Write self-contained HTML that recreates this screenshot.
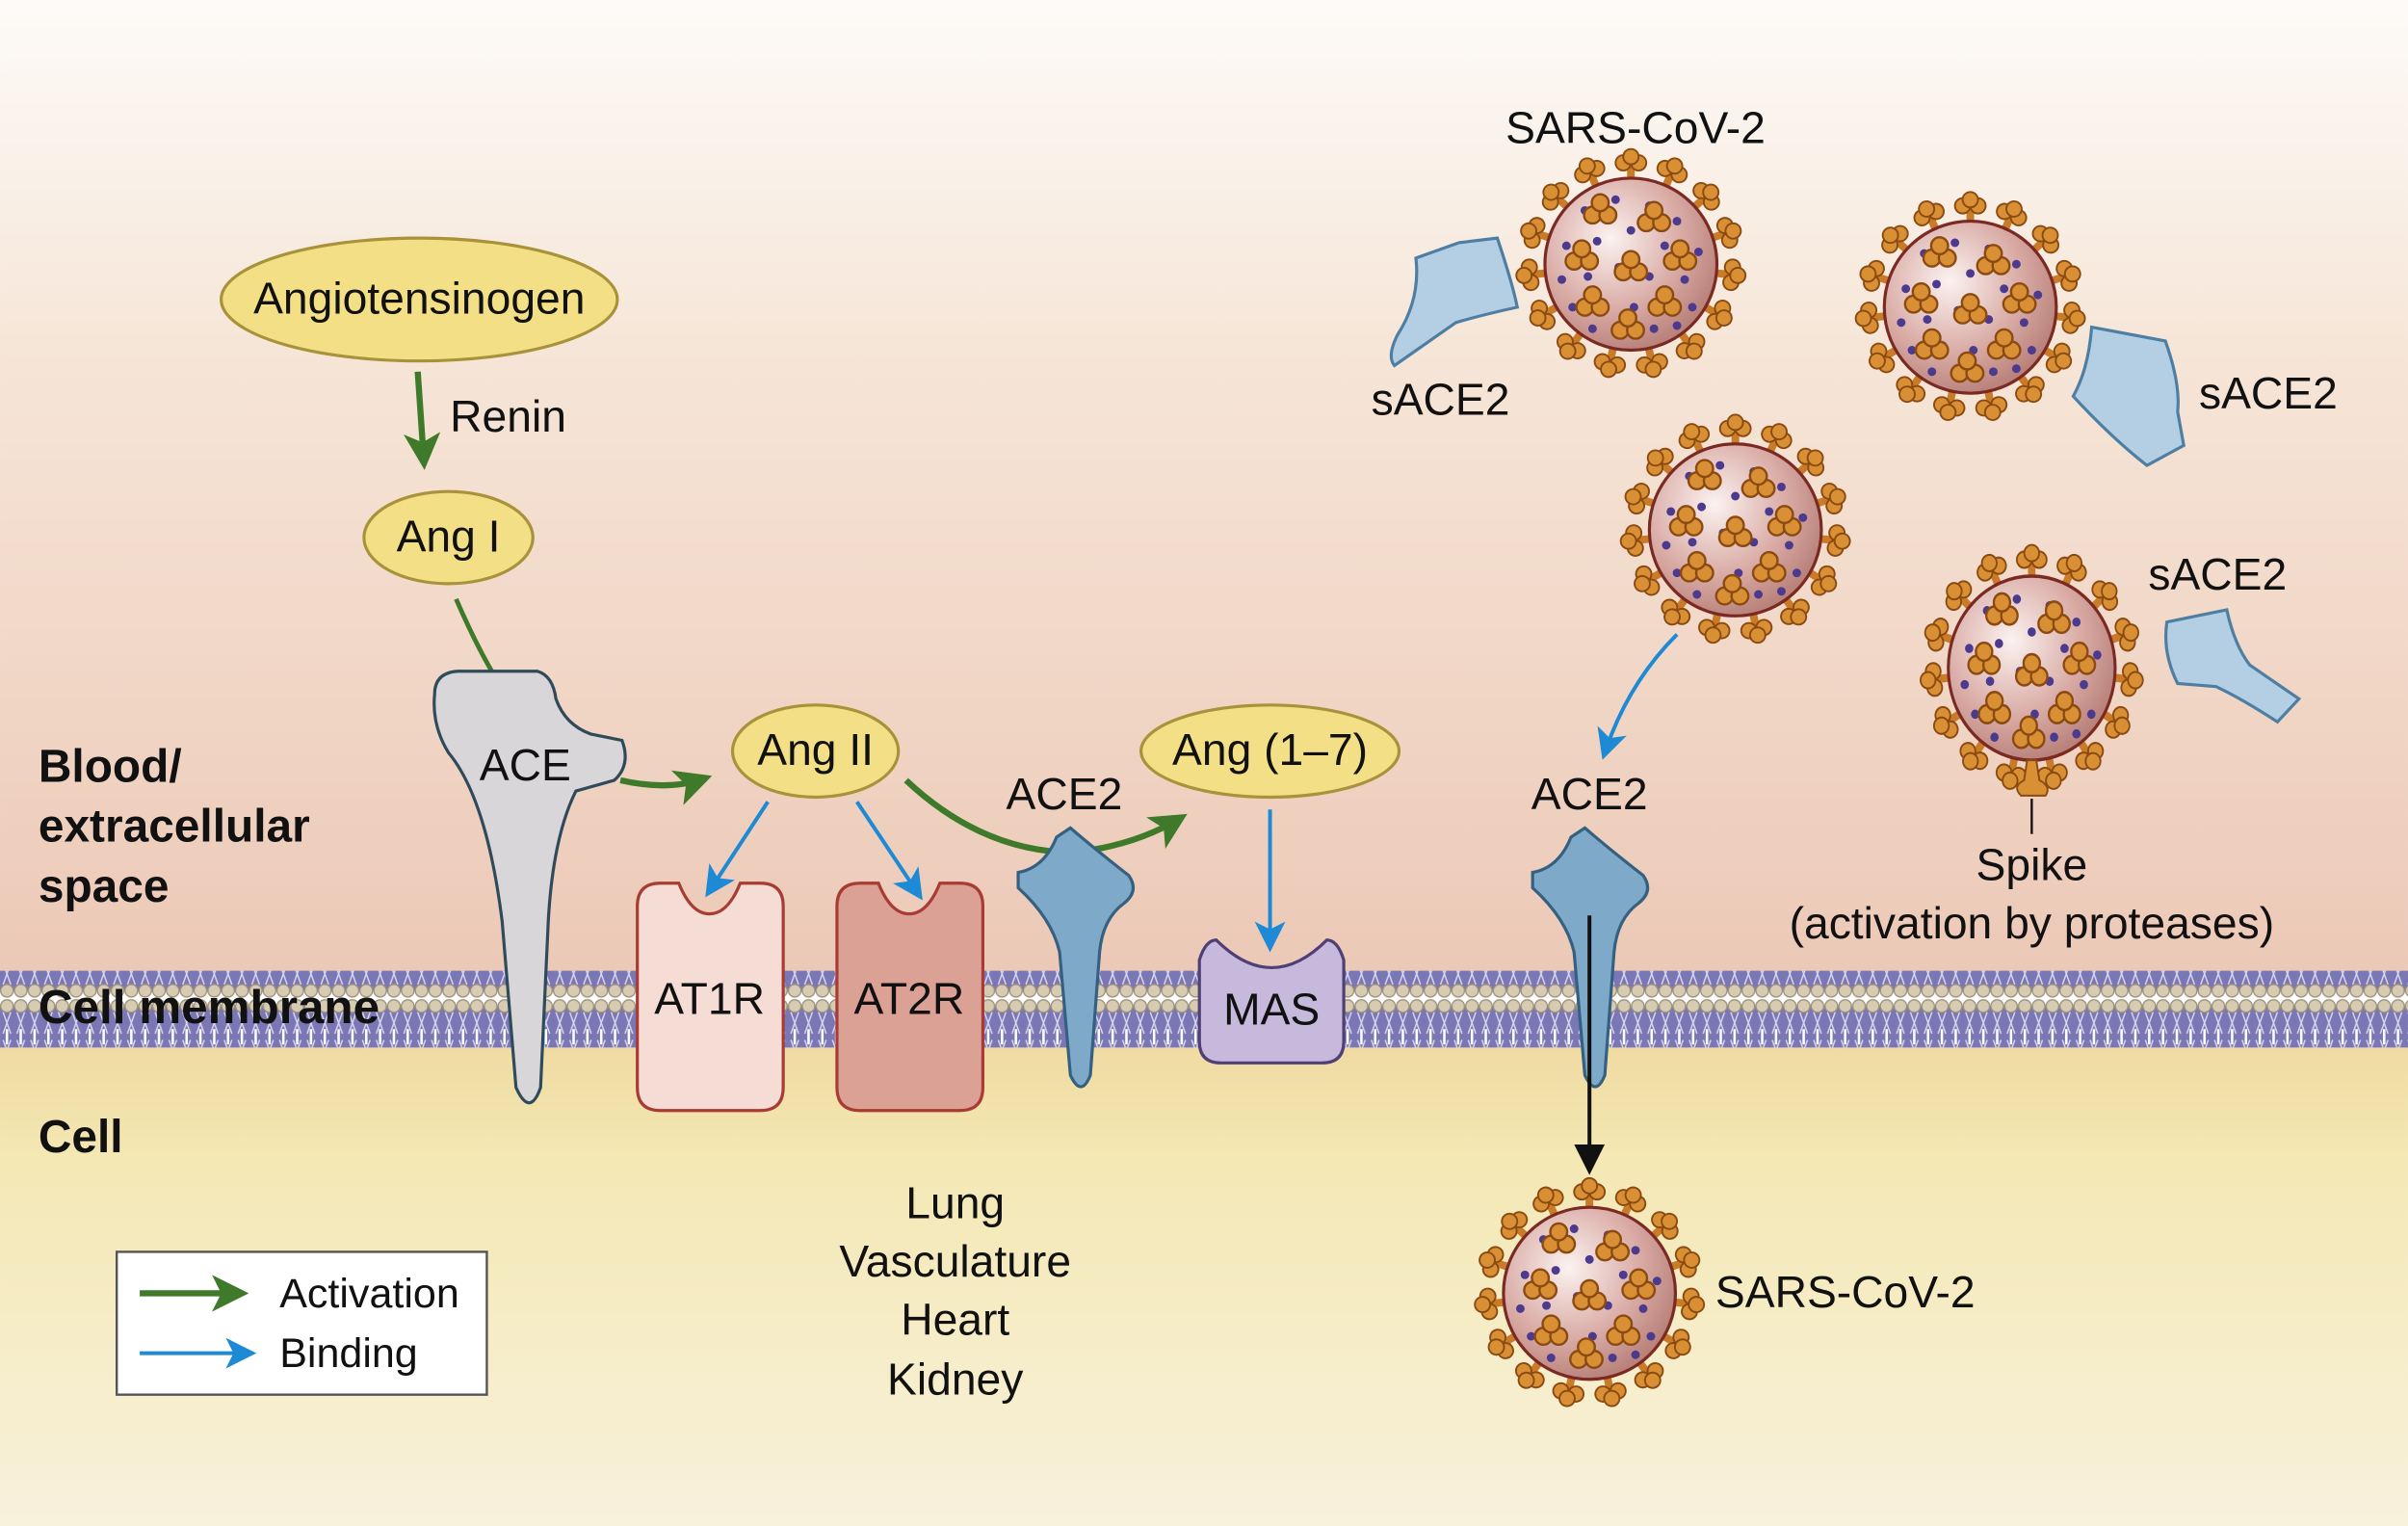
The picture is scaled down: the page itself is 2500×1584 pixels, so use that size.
<!DOCTYPE html>
<html><head><meta charset="utf-8"><style>
html,body{margin:0;padding:0;background:#fff}
svg{display:block}
text{font-family:"Liberation Sans",Arial,sans-serif;fill:#111}
</style></head><body>
<svg width="2500" height="1584" viewBox="0 0 1568 993.5" xmlns="http://www.w3.org/2000/svg">
<defs>
<linearGradient id="bgTop" x1="0" y1="0" x2="0" y2="1">
<stop offset="0" stop-color="#fdfbf8"/><stop offset="0.35" stop-color="#f6e6d8"/><stop offset="1" stop-color="#ecc8b6"/>
</linearGradient>
<linearGradient id="bgBot" x1="0" y1="0" x2="0" y2="1">
<stop offset="0" stop-color="#efd9a0"/><stop offset="0.25" stop-color="#f4e8b4"/><stop offset="1" stop-color="#f8f1dc"/>
</linearGradient>
<pattern id="lip" x="0" y="0" width="9" height="50" patternUnits="userSpaceOnUse">
<rect x="0" y="5" width="9" height="40" fill="#7b77b4"/>
<path d="M2,9 L7,23 M7,9 L2,23 M2,27 L7,41 M7,27 L2,41" stroke="#d8d8f0" stroke-width="0.9"/>
<line x1="4.5" y1="20" x2="4.5" y2="30" stroke="#fff" stroke-width="1.6"/>
<circle cx="4.5" cy="5" r="4.1" fill="#d7cbb3" stroke="#9c8f78" stroke-width="0.8"/>
<circle cx="4.5" cy="45" r="4.1" fill="#d7cbb3" stroke="#9c8f78" stroke-width="0.8"/>
</pattern>
<radialGradient id="vb" cx="0.38" cy="0.35" r="0.7">
<stop offset="0" stop-color="#fbf2f0"/><stop offset="0.6" stop-color="#d9aaa4"/><stop offset="1" stop-color="#b57d76"/>
</radialGradient>
<g id="spk"><rect x="-2.5" y="-66" width="5" height="14" fill="#c97b28"/>
<circle cx="-5" cy="-66" r="5" fill="#d98f34" stroke="#8a4a12" stroke-width="1.2"/>
<circle cx="5" cy="-66" r="5" fill="#d98f34" stroke="#8a4a12" stroke-width="1.2"/>
<circle cx="0" cy="-70" r="5" fill="#d98f34" stroke="#8a4a12" stroke-width="1.2"/></g>
<g id="tri"><circle cx="-5" cy="3" r="5.5" fill="#d98f34" stroke="#8a4a12" stroke-width="1.5"/>
<circle cx="5" cy="3" r="5.5" fill="#d98f34" stroke="#8a4a12" stroke-width="1.5"/>
<circle cx="0" cy="-5" r="5.5" fill="#d98f34" stroke="#8a4a12" stroke-width="1.5"/></g>
<symbol id="vir" viewBox="-75 -75 150 150" overflow="visible">
<use href="#spk" transform="rotate(0)"/><use href="#spk" transform="rotate(24)"/><use href="#spk" transform="rotate(48)"/>
<use href="#spk" transform="rotate(72)"/><use href="#spk" transform="rotate(96)"/><use href="#spk" transform="rotate(120)"/>
<use href="#spk" transform="rotate(144)"/><use href="#spk" transform="rotate(168)"/><use href="#spk" transform="rotate(192)"/>
<use href="#spk" transform="rotate(216)"/><use href="#spk" transform="rotate(240)"/><use href="#spk" transform="rotate(264)"/>
<use href="#spk" transform="rotate(288)"/><use href="#spk" transform="rotate(312)"/><use href="#spk" transform="rotate(336)"/>
<circle r="56" fill="url(#vb)" stroke="#7a2a22" stroke-width="2"/>
<g fill="#4b3a8e">
<circle cx="-30" cy="-35" r="2.8"/><circle cx="-10" cy="-42" r="2.8"/><circle cx="12" cy="-38" r="2.8"/><circle cx="30" cy="-28" r="2.8"/>
<circle cx="-42" cy="-12" r="2.8"/><circle cx="-22" cy="-15" r="2.8"/><circle cx="0" cy="-22" r="2.8"/><circle cx="22" cy="-12" r="2.8"/><circle cx="44" cy="-8" r="2.8"/>
<circle cx="-45" cy="10" r="2.8"/><circle cx="-28" cy="8" r="2.8"/><circle cx="-8" cy="2" r="2.8"/><circle cx="12" cy="8" r="2.8"/><circle cx="35" cy="10" r="2.8"/>
<circle cx="-38" cy="28" r="2.8"/><circle cx="-18" cy="25" r="2.8"/><circle cx="2" cy="28" r="2.8"/><circle cx="22" cy="25" r="2.8"/><circle cx="40" cy="28" r="2.8"/>
<circle cx="-25" cy="42" r="2.8"/><circle cx="-5" cy="45" r="2.8"/><circle cx="15" cy="42" r="2.8"/><circle cx="30" cy="40" r="2.8"/>
</g>
<use href="#tri" x="-20" y="-35"/><use href="#tri" x="15" y="-30"/><use href="#tri" x="-32" y="-5"/><use href="#tri" x="32" y="-5"/>
<use href="#tri" x="0" y="2"/><use href="#tri" x="-25" y="25"/><use href="#tri" x="22" y="25"/><use href="#tri" x="-2" y="40"/>
</symbol>
<marker id="ag" markerWidth="24" markerHeight="24" refX="6" refY="4" orient="auto" markerUnits="userSpaceOnUse" viewBox="0 0 8 8"><path d="M0,0 L8,4 L0,8 L2,4 Z" fill="#3f7a2a"/></marker>
<marker id="ab" markerWidth="8" markerHeight="8" refX="6" refY="4" orient="auto" viewBox="0 0 8 8"><path d="M0,0 L8,4 L0,8 L2,4 Z" fill="#1e8ad6"/></marker>
<marker id="ak" markerWidth="8" markerHeight="8" refX="6" refY="4" orient="auto" viewBox="0 0 8 8"><path d="M0,0 L8,4 L0,8 Z" fill="#111"/></marker>
</defs>

<rect x="0" y="0" width="1568" height="640" fill="url(#bgTop)"/>
<rect x="0" y="675" width="1568" height="320" fill="url(#bgBot)"/>
<rect x="0" y="632" width="1568" height="50" fill="url(#lip)"/>

<g font-weight="bold" font-size="30">
<text x="25" y="509">Blood/</text><text x="25" y="548">extracellular</text><text x="25" y="587">space</text>
<text x="25" y="666" font-size="31">Cell membrane</text>
<text x="25" y="750">Cell</text>
</g>

<ellipse cx="273" cy="195" rx="129" ry="40" fill="#f2df86" stroke="#a8923a" stroke-width="2"/>
<text x="273" y="204" font-size="29" text-anchor="middle">Angiotensinogen</text>
<path d="M272,242 L276,300" stroke="#3f7a2a" stroke-width="4" fill="none" marker-end="url(#ag)"/>
<text x="293" y="281" font-size="29">Renin</text>
<ellipse cx="292" cy="350" rx="55" ry="30" fill="#f2df86" stroke="#a8923a" stroke-width="2"/>
<text x="292" y="359" font-size="29" text-anchor="middle">Ang I</text>
<path d="M297,390 Q310,420 322,440" stroke="#3f7a2a" stroke-width="3" fill="none"/>

<path d="M283,452 Q283,438 298,437 L350,437 Q360,440 362,455 Q368,472 385,478 L405,482 Q411,498 400,508 L375,515 Q360,545 357,600 L352,708 Q345,728 336,708 L327,600 Q317,520 292,490 Q281,472 283,452 Z" fill="#d9d6d9" stroke="#2f4a5a" stroke-width="2"/>
<text x="342" y="508" font-size="29" text-anchor="middle">ACE</text>
<path d="M404,508 Q435,515 458,507" stroke="#3f7a2a" stroke-width="4" fill="none" marker-end="url(#ag)"/>

<ellipse cx="531" cy="489" rx="54" ry="30" fill="#f2df86" stroke="#a8923a" stroke-width="2"/>
<text x="531" y="498" font-size="29" text-anchor="middle">Ang II</text>
<path d="M500,522 L462,580" stroke="#1e8ad6" stroke-width="2.5" fill="none" marker-end="url(#ab)"/>
<path d="M558,522 L598,582" stroke="#1e8ad6" stroke-width="2.5" fill="none" marker-end="url(#ab)"/>
<path d="M590,508 Q640,555 700,555 Q740,550 768,533" stroke="#3f7a2a" stroke-width="4" fill="none" marker-end="url(#ag)"/>

<path d="M430,575 L442,575 Q450,595 462,595 Q474,595 482,575 L495,575 Q510,575 510,590 L510,708 Q510,723 495,723 L430,723 Q415,723 415,708 L415,590 Q415,575 430,575 Z" fill="#f5ddd6" stroke="#a83b33" stroke-width="2"/>
<text x="462" y="660" font-size="29" text-anchor="middle">AT1R</text>
<path d="M560,575 L572,575 Q580,595 592,595 Q604,595 612,575 L625,575 Q640,575 640,590 L640,708 Q640,723 625,723 L560,723 Q545,723 545,708 L545,590 Q545,575 560,575 Z" fill="#dca195" stroke="#a83b33" stroke-width="2"/>
<text x="592" y="660" font-size="29" text-anchor="middle">AT2R</text>

<text x="693" y="527" font-size="29" text-anchor="middle">ACE2</text>
<path d="M663,578 L663,568 Q680,565 688,545 L697,539 Q712,552 735,570 Q742,580 732,588 Q718,598 716,620 L710,700 Q704,715 697,700 L690,620 Q685,598 663,578 Z" fill="#7ea9c9" stroke="#36607f" stroke-width="2"/>

<ellipse cx="827" cy="489" rx="84" ry="30" fill="#f2df86" stroke="#a8923a" stroke-width="2"/>
<text x="827" y="498" font-size="29" text-anchor="middle">Ang (1–7)</text>
<path d="M827,527 L827,615" stroke="#1e8ad6" stroke-width="2.5" fill="none" marker-end="url(#ab)"/>
<path d="M781,625 Q785,612 792,612 Q810,630 828,630 Q846,630 864,612 Q871,612 875,625 L875,678 Q875,692 861,692 L795,692 Q781,692 781,678 Z" fill="#c7b9dc" stroke="#4e3f74" stroke-width="2"/>
<text x="828" y="667" font-size="29" text-anchor="middle">MAS</text>

<g font-size="29" text-anchor="middle">
<text x="622" y="793">Lung</text><text x="622" y="831">Vasculature</text><text x="622" y="869">Heart</text><text x="622" y="908">Kidney</text>
</g>

<rect x="76" y="815" width="241" height="93" fill="#fff" stroke="#555" stroke-width="1.5"/>
<path d="M91,842 L156,842" stroke="#3f7a2a" stroke-width="4" marker-end="url(#ag)"/>
<path d="M91,881 L162,881" stroke="#1e8ad6" stroke-width="2.5" marker-end="url(#ab)"/>
<text x="182" y="851" font-size="27">Activation</text>
<text x="182" y="890" font-size="27">Binding</text>

<text x="1065" y="93" font-size="29" text-anchor="middle">SARS-CoV-2</text>
<use href="#vir" x="987" y="97" width="150" height="150"/>
<path d="M922,168 L950,158 L975,155 Q985,185 988,200 Q965,205 948,210 L908,238 Q903,232 910,218 Q925,195 922,168 Z" fill="#b4cfe3" stroke="#4e7fa3" stroke-width="2"/>
<text x="938" y="270" font-size="29" text-anchor="middle">sACE2</text>

<use href="#vir" x="1208" y="125" width="150" height="150"/>
<path d="M1362,213 L1410,222 Q1420,250 1418,268 L1422,290 L1398,303 Q1375,285 1350,258 Q1360,240 1362,213 Z" fill="#b4cfe3" stroke="#4e7fa3" stroke-width="2"/>
<text x="1477" y="266" font-size="29" text-anchor="middle">sACE2</text>

<use href="#vir" x="1055" y="270" width="150" height="150"/>
<path d="M1092,413 Q1060,445 1045,490" stroke="#1e8ad6" stroke-width="2.5" fill="none" marker-end="url(#ab)"/>

<text x="1444" y="384" font-size="29" text-anchor="middle">sACE2</text>
<path d="M1411,405 L1450,397 Q1455,420 1465,433 L1497,455 L1483,470 Q1460,455 1443,447 L1418,445 Q1408,425 1411,405 Z" fill="#b4cfe3" stroke="#4e7fa3" stroke-width="2"/>
<g transform="translate(1323,435) scale(0.97,1.07)"><use href="#vir" x="-75" y="-75" width="150" height="150"/></g>
<path d="M1320,495 L1326,495 L1328,508 Q1336,512 1332,518 L1316,518 Q1310,512 1318,508 Z" fill="#d98f34" stroke="#8a4a12" stroke-width="1.2"/>
<line x1="1323" y1="520" x2="1323" y2="543" stroke="#111" stroke-width="1.5"/>
<text x="1323" y="573" font-size="29" text-anchor="middle">Spike</text>
<text x="1323" y="611" font-size="29" text-anchor="middle">(activation by proteases)</text>

<text x="1035" y="527" font-size="29" text-anchor="middle">ACE2</text>
<path d="M998,578 L998,568 Q1015,565 1023,545 L1032,539 Q1047,552 1070,570 Q1077,580 1067,588 Q1053,598 1051,620 L1045,700 Q1039,715 1032,700 L1025,620 Q1020,598 998,578 Z" fill="#7ea9c9" stroke="#36607f" stroke-width="2"/>
<path d="M1035,596 L1035,760" stroke="#111" stroke-width="2.5" fill="none" marker-end="url(#ak)"/>
<use href="#vir" x="960" y="767" width="150" height="150"/>
<text x="1117" y="851" font-size="29">SARS-CoV-2</text>
</svg>
</body></html>
